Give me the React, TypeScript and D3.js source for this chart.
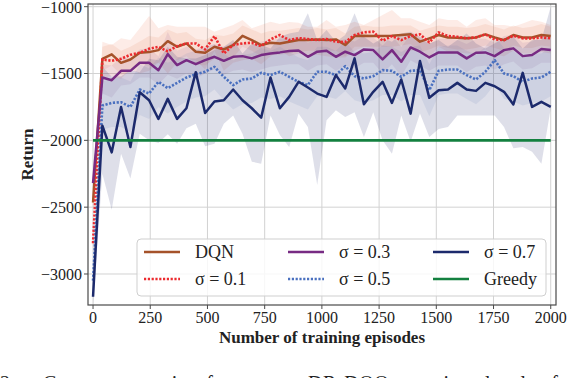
import React from 'react'
import * as d3 from 'd3'

// evaluation grid: 50 evaluations between 0 and 2000 episodes
const nEval = 50
const episodes = d3.range(nEval).map((i) => (i * 2000) / (nEval - 1))

// mean return per method
const dqn = [-2465, -1390, -1357, -1420, -1395, -1345, -1340, -1325, -1258, -1300, -1275, -1337, -1345, -1300, -1320, -1287, -1218, -1250, -1287, -1270, -1275, -1262, -1250, -1250, -1245, -1250, -1245, -1287, -1220, -1217, -1220, -1220, -1217, -1212, -1207, -1262, -1237, -1212, -1230, -1232, -1237, -1230, -1207, -1230, -1250, -1212, -1230, -1230, -1212, -1220]
const sigma01 = [-2770, -1395, -1405, -1390, -1360, -1345, -1315, -1300, -1335, -1295, -1275, -1275, -1320, -1220, -1350, -1287, -1275, -1270, -1295, -1245, -1212, -1250, -1235, -1242, -1250, -1242, -1262, -1265, -1212, -1192, -1187, -1255, -1220, -1250, -1220, -1207, -1267, -1192, -1220, -1225, -1237, -1230, -1207, -1245, -1250, -1217, -1237, -1237, -1230, -1237]
const sigma03 = [-2320, -1530, -1550, -1480, -1480, -1420, -1420, -1475, -1355, -1437, -1400, -1430, -1400, -1375, -1405, -1375, -1370, -1387, -1362, -1350, -1342, -1332, -1328, -1375, -1337, -1330, -1375, -1337, -1362, -1320, -1325, -1395, -1325, -1412, -1305, -1337, -1380, -1342, -1342, -1342, -1387, -1345, -1342, -1370, -1325, -1312, -1370, -1362, -1317, -1325]
const sigma05 = [-3050, -1740, -1720, -1715, -1750, -1620, -1650, -1562, -1610, -1570, -1530, -1505, -1487, -1450, -1525, -1587, -1545, -1537, -1495, -1512, -1487, -1525, -1562, -1587, -1487, -1487, -1512, -1445, -1520, -1537, -1520, -1475, -1480, -1525, -1480, -1475, -1625, -1480, -1470, -1470, -1512, -1545, -1487, -1400, -1500, -1520, -1562, -1537, -1530, -1487]
const sigma07 = [-3170, -1890, -2090, -1750, -2050, -1640, -1700, -1840, -1690, -1840, -1760, -1490, -1795, -1710, -1700, -1620, -1700, -1760, -1830, -1530, -1760, -1675, -1562, -1605, -1650, -1675, -1512, -1612, -1387, -1730, -1637, -1562, -1720, -1545, -1800, -1407, -1682, -1625, -1620, -1570, -1620, -1630, -1570, -1595, -1637, -1732, -1495, -1750, -1712, -1750]
const greedyEpisodes = [0, 2000]
const greedyReturns = [-2000, -2000]

// shaded spread (upper / lower) per method
const dqnHi = [-2380, -1300, -1280, -1330, -1300, -1260, -1220, -1230, -1170, -1200, -1190, -1240, -1250, -1210, -1220, -1200, -1140, -1170, -1200, -1180, -1180, -1170, -1160, -1170, -1160, -1170, -1160, -1200, -1150, -1140, -1150, -1150, -1140, -1140, -1140, -1180, -1160, -1140, -1150, -1150, -1160, -1150, -1130, -1150, -1170, -1140, -1160, -1150, -1130, -1150]
const dqnLo = [-2550, -1480, -1440, -1510, -1490, -1430, -1440, -1420, -1350, -1400, -1370, -1430, -1440, -1390, -1410, -1380, -1300, -1330, -1370, -1360, -1360, -1350, -1340, -1330, -1330, -1330, -1330, -1370, -1300, -1300, -1300, -1300, -1300, -1290, -1280, -1340, -1320, -1290, -1310, -1320, -1320, -1310, -1290, -1310, -1330, -1290, -1310, -1310, -1290, -1300]
const sigma01Hi = [-2650, -1262, -1287, -1237, -1250, -1162, -1070, -1162, -1137, -1150, -1150, -1150, -1150, -1187, -1162, -1137, -1100, -1162, -1137, -1112, -1130, -1115, -1120, -1150, -1150, -1100, -1150, -1137, -1112, -1137, -1100, -1062, -1025, -1087, -1087, -1112, -1137, -1087, -1100, -1100, -1150, -1100, -1087, -1137, -1137, -1150, -1125, -1100, -1112, -1137]
const sigma01Lo = [-2900, -1530, -1520, -1540, -1470, -1500, -1480, -1420, -1500, -1420, -1390, -1400, -1470, -1330, -1480, -1420, -1400, -1390, -1430, -1370, -1330, -1370, -1350, -1360, -1360, -1370, -1380, -1380, -1330, -1300, -1310, -1380, -1350, -1370, -1330, -1320, -1380, -1300, -1340, -1340, -1350, -1350, -1320, -1360, -1370, -1330, -1350, -1350, -1340, -1350]
const sigma03Hi = [-2200, -1430, -1440, -1380, -1390, -1320, -1310, -1370, -1190, -1330, -1300, -1320, -1300, -1280, -1300, -1270, -1270, -1290, -1260, -1250, -1240, -1240, -1230, -1270, -1240, -1230, -1270, -1240, -1260, -1220, -1230, -1290, -1220, -1300, -1210, -1240, -1280, -1240, -1240, -1250, -1280, -1240, -1240, -1270, -1220, -1210, -1270, -1260, -1220, -1230]
const sigma03Lo = [-2450, -1650, -1680, -1590, -1580, -1530, -1530, -1580, -1510, -1540, -1500, -1540, -1500, -1470, -1510, -1480, -1470, -1490, -1470, -1450, -1440, -1430, -1430, -1480, -1440, -1430, -1480, -1440, -1460, -1420, -1420, -1500, -1430, -1520, -1400, -1440, -1480, -1440, -1440, -1440, -1490, -1450, -1440, -1470, -1430, -1410, -1470, -1460, -1420, -1420]
const sigma05Hi = [-2900, -1560, -1540, -1530, -1560, -1430, -1460, -1380, -1420, -1390, -1350, -1330, -1310, -1280, -1350, -1400, -1360, -1350, -1310, -1330, -1300, -1340, -1380, -1400, -1300, -1300, -1330, -1260, -1340, -1350, -1340, -1290, -1300, -1340, -1300, -1290, -1430, -1300, -1290, -1290, -1330, -1360, -1300, -1220, -1310, -1330, -1380, -1350, -1350, -1300]
const sigma05Lo = [-3200, -1920, -1900, -1900, -1940, -1810, -1840, -1750, -1800, -1750, -1710, -1680, -1670, -1620, -1700, -1770, -1730, -1720, -1680, -1690, -1670, -1710, -1740, -1770, -1670, -1670, -1690, -1630, -1700, -1720, -1700, -1660, -1660, -1710, -1660, -1660, -1820, -1660, -1650, -1650, -1690, -1730, -1670, -1580, -1690, -1710, -1740, -1720, -1710, -1670]
const sigma07Hi = [-3050, -1450, -1525, -1520, -1475, -1490, -1390, -1400, -1300, -1375, -1387, -1387, -1362, -1325, -1300, -1250, -1350, -1275, -1287, -1312, -1225, -1200, -1187, -1050, -1250, -1175, -1262, -1212, -1050, -1225, -1275, -1237, -1262, -1200, -1187, -1225, -1275, -1250, -1300, -1250, -1200, -1275, -1312, -1275, -1237, -1225, -1312, -1250, -1250, -1000]
const sigma07Lo = [-3230, -2250, -2520, -2100, -2285, -1950, -2000, -2020, -1955, -2025, -1910, -1875, -2045, -2025, -1875, -1815, -1950, -2160, -2175, -1815, -1960, -2050, -1800, -1900, -2335, -1850, -1775, -1825, -1790, -1975, -1790, -2000, -2100, -1815, -2010, -1800, -1975, -1915, -1900, -1815, -1815, -1815, -1815, -1815, -1900, -2060, -2050, -2085, -2175, -1760]

const xTicks = [0, 250, 500, 750, 1000, 1250, 1500, 1750, 2000]
const yTicks = [-1000, -1500, -2000, -2500, -3000]

const series = [
  { label: 'DQN', mean: dqn, hi: dqnHi, lo: dqnLo, color: '#a5522a', fill: '#e0784a', fillOp: 0.13, dash: null },
  { label: 'σ = 0.1', mean: sigma01, hi: sigma01Hi, lo: sigma01Lo, color: '#ec2a2e', fill: '#f47a52', fillOp: 0.14, dash: '2.2,1.6' },
  { label: 'σ = 0.3', mean: sigma03, hi: sigma03Hi, lo: sigma03Lo, color: '#772b83', fill: '#7b3a8a', fillOp: 0.1, dash: null },
  { label: 'σ = 0.5', mean: sigma05, hi: sigma05Hi, lo: sigma05Lo, color: '#4a70bf', fill: '#4a6ab0', fillOp: 0.1, dash: '2.2,1.6' },
  { label: 'σ = 0.7', mean: sigma07, hi: sigma07Hi, lo: sigma07Lo, color: '#1c2a6c', fill: '#1f2a6b', fillOp: 0.15, dash: null },
]
const greedyColor = '#13803f'

const W = 568
const H = 378
const plot = { left: 88, right: 556, top: 4, bottom: 305 }
const font = '"Liberation Serif", "Times New Roman", Times, serif'
const fmt = (v: number) => (v < 0 ? '\u2212' + Math.abs(v) : String(v))

export default function App() {
  const x = d3.scaleLinear().domain([-22, 2023]).range([plot.left, plot.right])
  const y = d3.scaleLinear().domain([-3232, -980]).range([plot.bottom, plot.top])

  const line = d3
    .line<number>()
    .x((_, i) => x(episodes[i]))
    .y((d) => y(d))
  const band = (hi: number[], lo: number[]) =>
    d3
      .area<number>()
      .x((_, i) => x(episodes[i]))
      .y0((_, i) => y(lo[i]))
      .y1((_, i) => y(hi[i]))(hi) as string
  const greedyLine = d3
    .line<number>()
    .x((_, i) => x(greedyEpisodes[i]))
    .y((d) => y(d))(greedyReturns) as string

  const legendItems = [
    { ...series[0], col: 0, row: 0 },
    { ...series[1], col: 0, row: 1 },
    { ...series[2], col: 1, row: 0 },
    { ...series[3], col: 1, row: 1 },
    { ...series[4], col: 2, row: 0 },
    { label: 'Greedy', color: greedyColor, dash: null, col: 2, row: 1 },
  ]
  const colX = [144, 288, 433]
  const rowY = [252, 279]

  return (
    <svg width={W} height={H} style={{ position: 'absolute', left: 0, top: 0, background: '#fff', fontFamily: font }}>
      <defs>
        <clipPath id="plotClip">
          <rect x={plot.left} y={plot.top} width={plot.right - plot.left} height={plot.bottom - plot.top} />
        </clipPath>
      </defs>

      {/* grid */}
      {xTicks.map((t) => (
        <line key={'gx' + t} x1={x(t)} x2={x(t)} y1={plot.top} y2={plot.bottom} stroke="#d2d2d2" strokeWidth={1} />
      ))}
      {yTicks.map((t) => (
        <line key={'gy' + t} x1={plot.left} x2={plot.right} y1={y(t)} y2={y(t)} stroke="#d2d2d2" strokeWidth={1} />
      ))}

      <g clipPath="url(#plotClip)">
        {series.map((s) => (
          <path key={'b' + s.label} d={band(s.hi, s.lo)} fill={s.fill} fillOpacity={s.fillOp} stroke="none" />
        ))}
        {series.map((s) => (
          <path
            key={'l' + s.label}
            d={line(s.mean) as string}
            fill="none"
            stroke={s.color}
            strokeWidth={s.dash ? 2.6 : 2.5}
            strokeDasharray={s.dash ?? undefined}
            strokeLinejoin="round"
          />
        ))}
        <path d={greedyLine} fill="none" stroke={greedyColor} strokeWidth={2.8} />
      </g>

      {/* frame */}
      <rect x={plot.left} y={plot.top} width={plot.right - plot.left} height={plot.bottom - plot.top} fill="none" stroke="#4a4a4a" strokeWidth={1.2} />

      {/* ticks */}
      {xTicks.map((t) => (
        <g key={'tx' + t}>
          <line x1={x(t)} x2={x(t)} y1={plot.bottom} y2={plot.bottom + 4} stroke="#4a4a4a" strokeWidth={1} />
          <text x={x(t)} y={323} textAnchor="middle" fontSize={16} fill="#222">
            {fmt(t)}
          </text>
        </g>
      ))}
      {yTicks.map((t) => (
        <g key={'ty' + t}>
          <line x1={plot.left - 4} x2={plot.left} y1={y(t)} y2={y(t)} stroke="#4a4a4a" strokeWidth={1} />
          <text x={82} y={y(t) + (t === -1000 ? 1 : 0)} dy="0.35em" textAnchor="end" fontSize={16} fill="#222">
            {fmt(t)}
          </text>
        </g>
      ))}

      <text x={(plot.left + plot.right) / 2} y={343} textAnchor="middle" fontSize={17} fontWeight="bold" fill="#222">
        Number of training episodes
      </text>
      <text transform={`translate(27,${(plot.top + plot.bottom) / 2}) rotate(-90)`} dy="0.35em" textAnchor="middle" fontSize={17} fontWeight="bold" fill="#222">
        Return
      </text>

      {/* legend */}
      <rect x={137} y={239} width={409} height={57} rx={4} fill="#fff" fillOpacity={0.82} stroke="#cfcfcf" strokeWidth={1} />
      {legendItems.map((it) => (
        <g key={'lg' + it.label}>
          <line
            x1={colX[it.col]}
            x2={colX[it.col] + 36}
            y1={rowY[it.row]}
            y2={rowY[it.row]}
            stroke={it.color}
            strokeWidth={2.6}
            strokeDasharray={it.dash ?? undefined}
          />
          <text x={colX[it.col] + 51} y={rowY[it.row]} dy="0.35em" fontSize={18} fill="#222">
            {it.label}
          </text>
        </g>
      ))}

      {/* caption, cut by the bottom page edge as in the source */}
      <text y={390} fontSize={20} fill="#222">
        <tspan x={0}>2.</tspan>
        <tspan x={43} textLength={170} lengthAdjust="spacing">Convergence comparison of</tspan>
        <tspan x={308} textLength={250} lengthAdjust="spacing">DR-DQO at various levels of</tspan>
      </text>
    </svg>
  )
}
